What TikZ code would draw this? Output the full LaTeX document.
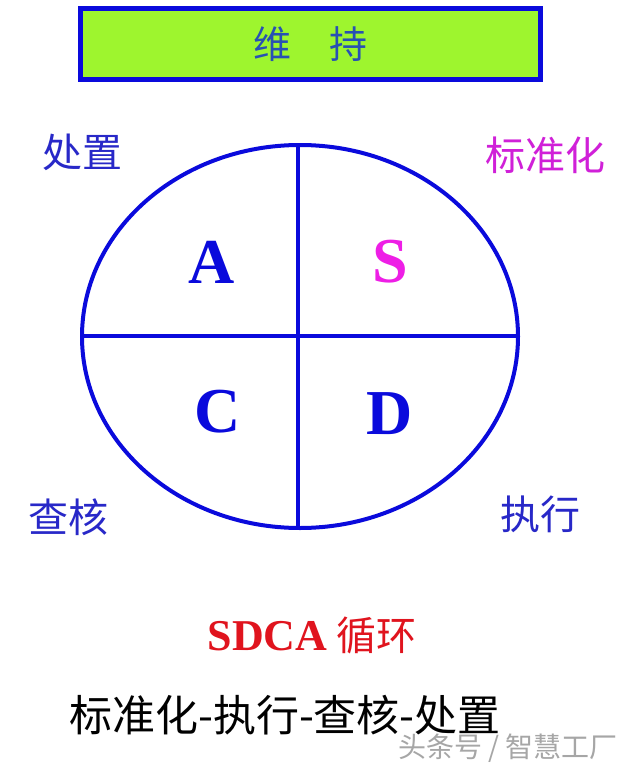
\documentclass[tikz,border=0pt]{standalone}
\usepackage{fontspec}
\usetikzlibrary{shapes.geometric}
\setmainfont{Liberation Serif}
\newfontfamily\cjk{Noto Sans CJK SC}
\definecolor{lineblue}{HTML}{0A0ADC}
\definecolor{txtblue}{HTML}{2828C8}
\definecolor{boxgreen}{HTML}{9EF52E}
\definecolor{boxtxt}{HTML}{2850B4}
\definecolor{mag}{HTML}{EE1EE6}
\definecolor{labmag}{HTML}{D020D8}
\definecolor{redtxt}{HTML}{E0141E}
\tikzset{
  letter/.style={font=\fontsize{64}{64}\selectfont\bfseries, inner sep=0pt},
  corner/.style={font=\cjk\fontsize{40}{40}\selectfont, inner sep=0pt, text=txtblue},
  diag/.style={draw=lineblue, line width=4pt}
}
\begin{document}
\begin{tikzpicture}[x=1pt,y=-1pt]
\useasboundingbox (0,0) rectangle (640,765);
\fill[white] (0,0) rectangle (640,765);
% title box
\node (title) [draw=lineblue, line width=5pt, fill=boxgreen, minimum width=460pt, minimum height=71pt, inner sep=0pt,
  font=\cjk\fontsize{38}{38}\selectfont, text=boxtxt] at (310,44.5) {维\hspace{1em}持};
% ellipse and cross
\node (ell) [diag, ellipse, minimum width=436pt, minimum height=383pt, inner sep=0pt] at (300,336.5) {};
\coordinate (top) at (298,145);
\coordinate (bot) at (298,528);
\coordinate (lft) at (82,336);
\coordinate (rgt) at (518,336);
\draw[diag] (top) -- (bot);
\draw[diag] (lft) -- (rgt);
% letters
\node (A) [letter, text=lineblue] at (212,262) {A};
\node (S) [letter, text=mag] at (390,262) {S};
\node (C) [letter, text=lineblue] at (218,412) {C};
\node (D) [letter, text=lineblue] at (390,414) {D};
% corner labels
\node (act) [corner] at (82,152) {处置};
\node (std) [corner, text=labmag] at (545,155) {标准化};
\node (chk) [corner] at (68,517) {查核};
\node (do) [corner] at (540,514) {执行};
% cycle label
\node (cyc) [text=redtxt, inner sep=0pt] at (312,635) {\fontsize{44}{44}\selectfont\bfseries SDCA\hspace{0.2em}\cjk\mdseries\fontsize{40}{40}\selectfont 循环};
\node (seq) [inner sep=0pt, font=\cjk\fontsize{43}{43}\selectfont] at (285,715) {标准化-执行-查核-处置};
\node (wm) [inner sep=0pt, text=black!35, font=\cjk\fontsize{28}{28}\selectfont] at (508,748) {头条号 / 智慧工厂};
\end{tikzpicture}
\end{document}
